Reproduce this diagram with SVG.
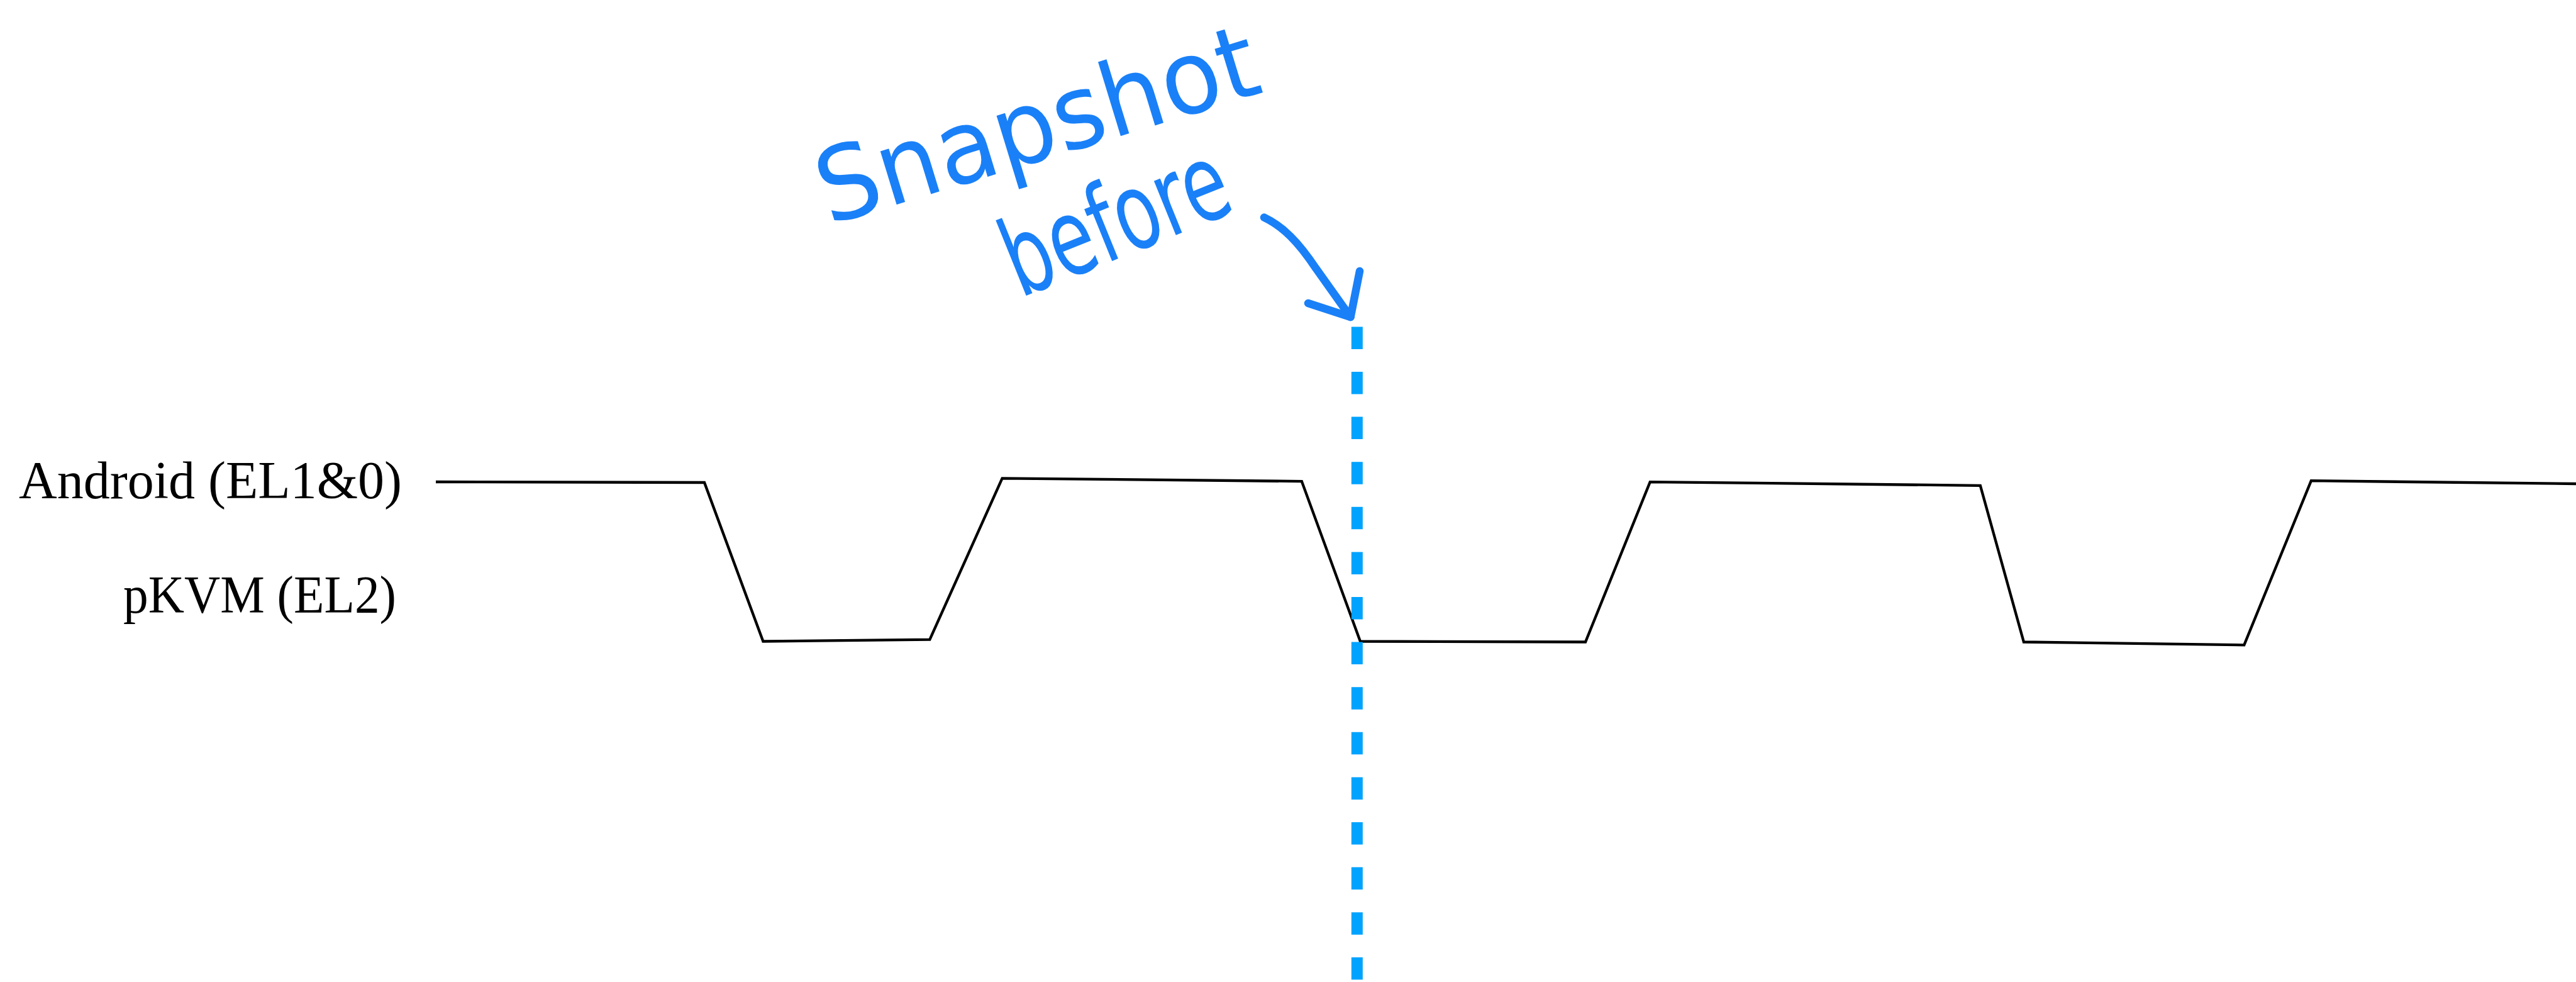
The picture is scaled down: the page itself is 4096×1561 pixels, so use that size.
<svg xmlns="http://www.w3.org/2000/svg" width="4096" height="1561" viewBox="0 0 4096 1561">
<style>
.lbl{font-family:"Liberation Serif","Times New Roman",serif;font-size:84.5px;fill:#000}
.hand{font-family:"DejaVu Sans Condensed","DejaVu Sans",sans-serif;font-stretch:condensed;fill:#1a80f8}
.wave{fill:none;stroke:#000;stroke-width:4.3;stroke-linejoin:miter}
.ink{fill:none;stroke:#1a80f8;stroke-width:12.5;stroke-linecap:round;stroke-linejoin:round}
.snap{fill:none;stroke:#00a3ff;stroke-width:18;stroke-dasharray:35.5 36.1}
</style>
<rect width="4096" height="1561" fill="#fff"/>
<g id="label-android"><text class="lbl" x="30" y="792" textLength="609" lengthAdjust="spacingAndGlyphs">Android (EL1&amp;0)</text></g>
<g id="label-pkvm"><text class="lbl" x="196" y="974" textLength="434" lengthAdjust="spacingAndGlyphs">pKVM (EL2)</text></g>
<g id="waveform">
<polyline class="wave" points="693,766 1120,767 1213.4,1019.5 1478.4,1016.6 1593.6,760.3 2069.8,765.1 2162.9,1019.5 2521,1020.5 2623.7,766.1 3148.8,771.8 3217.9,1020.5 3568.3,1025.3 3674.9,764.2 4096,769"/>
</g>
<g id="snapshot-line">
<line class="snap" x1="2157.8" y1="519.4" x2="2157.8" y2="1561"/>
</g>
<g id="annotation">
<text class="hand" font-size="162" transform="translate(1318,358) rotate(-17)" textLength="725" lengthAdjust="spacingAndGlyphs">Snapshot</text>
<text class="hand" font-size="170" transform="translate(1622,474) rotate(-22)" textLength="373" lengthAdjust="spacingAndGlyphs">before</text>
</g>
<g id="connectors">
<path class="ink" d="M2010,345.6 C2040,360 2064,384 2092.8,427.2 L2147.5,504"/>
<path class="ink" d="M2080,482 L2147.5,504 L2162,431"/>
</g>
</svg>
